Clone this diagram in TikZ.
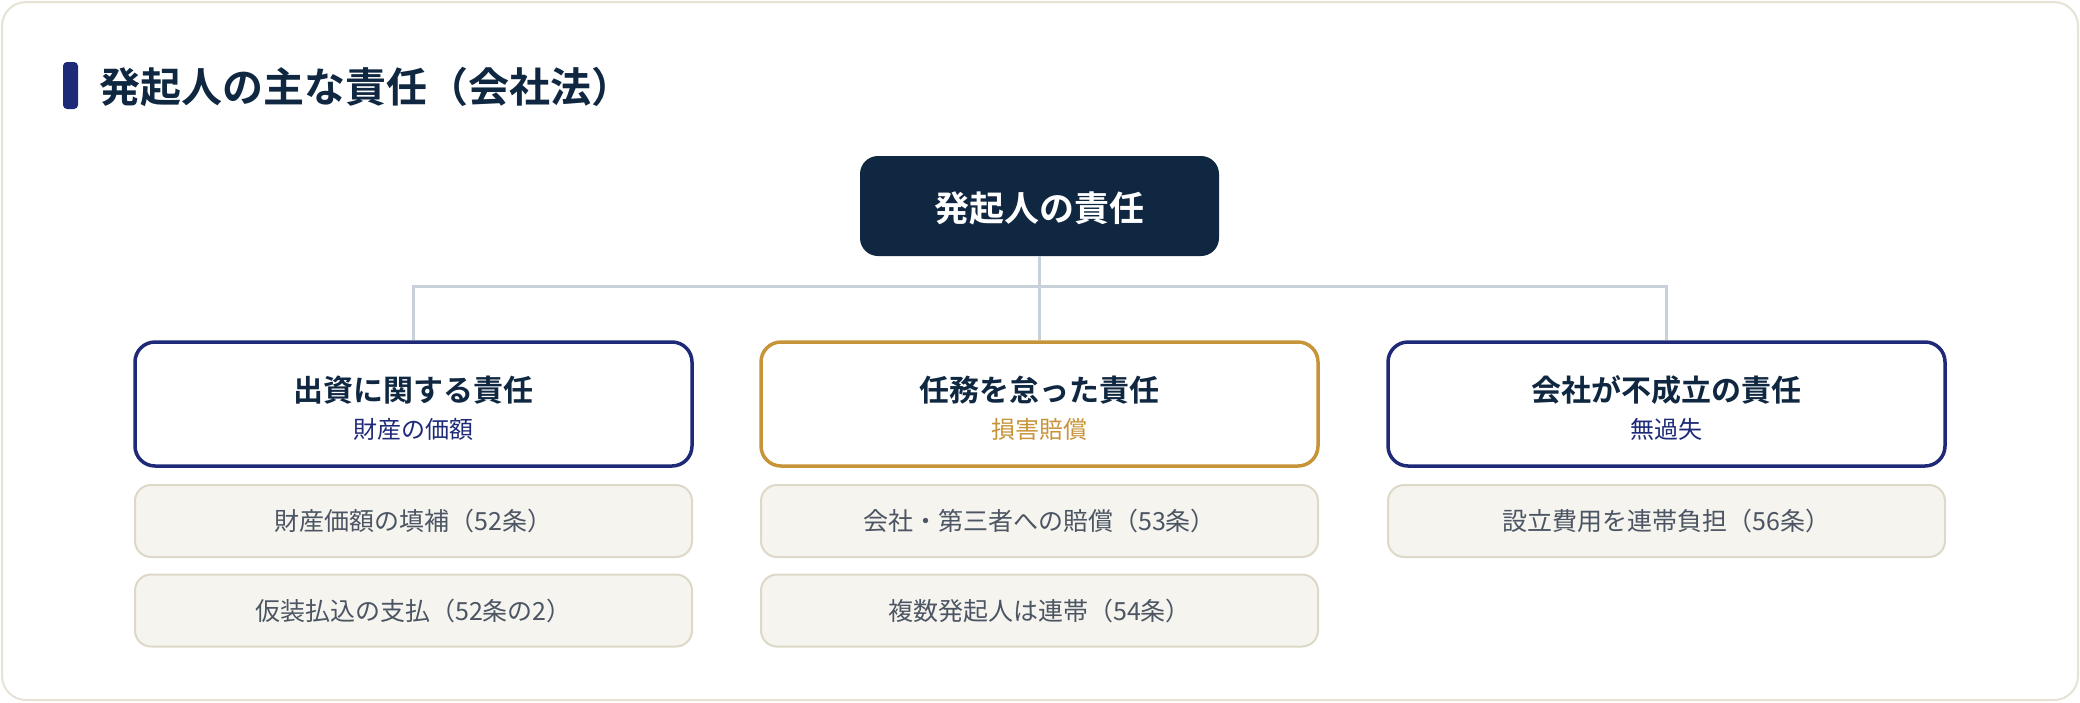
\documentclass[tikz,border=0pt]{standalone}
\usepackage{fontspec}
\setmainfont{Noto Sans CJK JP}[BoldFont={* Bold}]
\definecolor{navydark}{HTML}{0F2740}
\definecolor{navy}{HTML}{1E2A78}
\definecolor{gold}{HTML}{C8943A}
\definecolor{connector}{HTML}{C8D0DA}
\definecolor{leaffill}{HTML}{F6F4EE}
\definecolor{leafline}{HTML}{DDD8C8}
\definecolor{leaftext}{HTML}{4B5563}
\definecolor{cardline}{HTML}{E6E2D6}
\tikzset{
  rootbox/.style={fill=navydark, rounded corners=18pt, minimum width=359pt, minimum height=100pt, inner sep=0pt},
  catbox/.style={draw=#1, line width=3.5pt, fill=white, rounded corners=20pt, minimum width=557pt, minimum height=124pt, inner sep=0pt},
  leafbox/.style={draw=leafline, line width=2pt, fill=leaffill, rounded corners=16pt, minimum width=557pt, minimum height=72pt, inner sep=0pt,
    text=leaftext, font=\fontsize{25}{29}\selectfont},
  cattitle/.style={text=navydark, font=\fontsize{30}{35}\selectfont\bfseries, inner sep=0pt},
  catsub/.style={text=#1, font=\fontsize{24}{28}\selectfont, inner sep=0pt},
  link/.style={draw=connector, line width=3pt}
}
\begin{document}
\begin{tikzpicture}[x=1pt,y=-1pt]
\useasboundingbox (0,0) rectangle (2080,702);
\draw[cardline, line width=2pt, fill=white, rounded corners=24pt] (2,2) rectangle (2078,700);
% heading
\fill[navy, rounded corners=4pt] (63,62) rectangle (78,109);
\node[anchor=west, text=navydark, font=\fontsize{41}{49}\selectfont\bfseries, inner sep=0pt] (heading) at (99,87) {発起人の主な責任（会社法）};
% root
\node[rootbox] (root) at (1039.5,206) {};
\node[text=white, font=\fontsize{35}{41}\selectfont\bfseries, inner sep=0pt] (roottext) at (1039.5,208) {発起人の責任};
% categories
\node[catbox=navy] (c1) at (413.5,404) {};
\node[catbox=gold] (c2) at (1039.5,404) {};
\node[catbox=navy] (c3) at (1666.5,404) {};
\node[cattitle] (t1) at (413.5,390) {出資に関する責任};
\node[catsub=navy] (s1) at (413.5,429) {財産の価額};
\node[cattitle] (t2) at (1039.5,390) {任務を怠った責任};
\node[catsub=gold] (s2) at (1039.5,429) {損害賠償};
\node[cattitle] (t3) at (1666.5,390) {会社が不成立の責任};
\node[catsub=navy] (s3) at (1666.5,429) {無過失};
% connectors
\coordinate (bus) at (1039.5,286);
\draw[link] (root.south) -- (c2.north);
\draw[link] (bus) -| (c1.north);
\draw[link] (bus) -| (c3.north);
% leaves
\node[leafbox] (l11) at (413.5,521) {財産価額の填補（52条）};
\node[leafbox] (l12) at (413.5,610.5) {仮装払込の支払（52条の2）};
\node[leafbox] (l21) at (1039.5,521) {会社・第三者への賠償（53条）};
\node[leafbox] (l22) at (1039.5,610.5) {複数発起人は連帯（54条）};
\node[leafbox] (l31) at (1666.5,521) {設立費用を連帯負担（56条）};
\end{tikzpicture}
\end{document}
